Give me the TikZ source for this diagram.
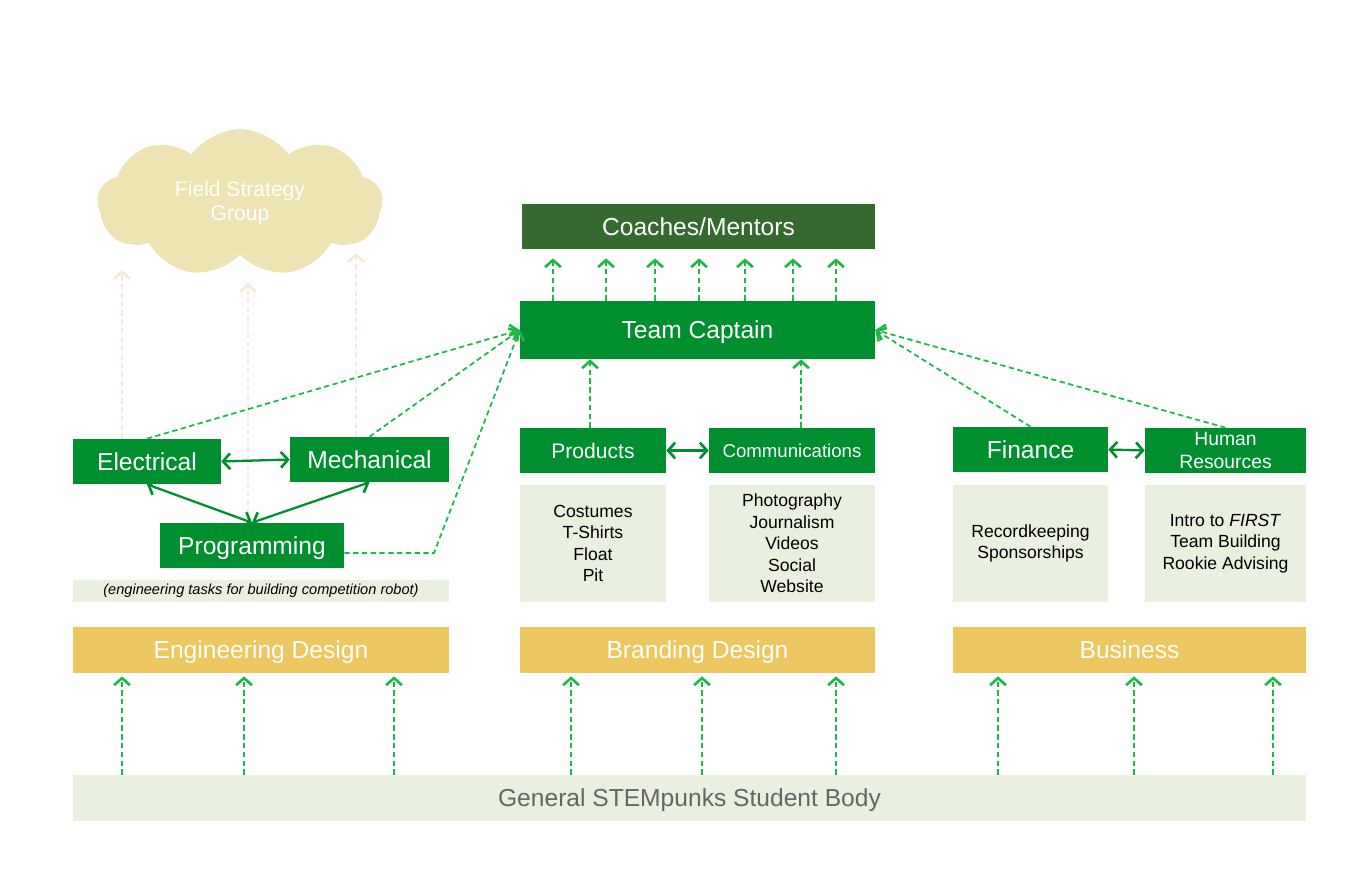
\documentclass[tikz,border=0pt]{standalone}
\usepackage{fontspec}
\setmainfont{Liberation Sans}
\usetikzlibrary{arrows.meta}
\usetikzlibrary{shapes.symbols}
\definecolor{boxgreen}{RGB}{0,143,46}
\definecolor{darkgreen}{RGB}{53,106,46}
\definecolor{dashgreen}{RGB}{30,184,70}
\definecolor{listfill}{RGB}{234,240,224}
\definecolor{gold}{RGB}{237,199,96}
\definecolor{cloudfill}{RGB}{238,227,178}
\definecolor{faint}{RGB}{247,234,218}
\definecolor{bodytext}{RGB}{102,102,102}

\begin{document}
\begin{tikzpicture}[x=0.02cm,y=-0.02cm,>={Straight Barb[length=4pt,width=9pt,line width=1.5pt]},
    green node/.style={rectangle,fill=boxgreen,text=white,inner sep=0pt,minimum height=0.9cm,
      text height=10pt,text depth=0pt,font=\fontsize{14}{16}\selectfont},
    list node/.style={rectangle,fill=listfill,inner sep=0pt,minimum height=2.34cm,align=center,font=\fontsize{10}{12.2}\selectfont},
    area node/.style={rectangle,fill=gold,text=white,inner sep=0pt,minimum height=0.92cm,
      text height=10pt,text depth=0pt,font=\fontsize{14}{16}\selectfont},
    dash link/.style={->,dash pattern=on 3pt off 2pt,line width=1pt,draw=dashgreen},
    faint link/.style={->,dash pattern=on 3pt off 2pt,line width=1pt,draw=faint},
    both link/.style={<->,line width=1.3pt,draw=boxgreen}]
  \useasboundingbox (0,0) rectangle (1371,869);

  % field strategy
  \node[cloud,cloud puffs=9,cloud puff arc=110,aspect=2.3,fill=cloudfill,inner sep=0pt,
        minimum width=5.7cm,minimum height=2.95cm,text=white,align=center,
        font=\fontsize{12}{14}\selectfont] (fsg) at (240,203) {Field Strategy\\Group};
  \coordinate (fs1) at (122,270);
  \coordinate (fs2) at (248,283);
  \coordinate (fs3) at (356,253);

  % top
  \node[rectangle,fill=darkgreen,text=white,inner sep=0pt,minimum width=7.06cm,minimum height=0.9cm,
        text height=10pt,text depth=0pt,font=\fontsize{14}{16}\selectfont] (cm) at (698.5,226.5) {Coaches/Mentors};
  \node[green node,minimum width=7.1cm,minimum height=1.16cm] (tc) at (697.5,330) {Team Captain};

  % engineering
  \node[green node,minimum width=2.96cm] (elec) at (147,461.5) {Electrical};
  \node[green node,minimum width=3.18cm] (mech) at (369.5,459.5) {Mechanical};
  \node[green node,minimum width=3.68cm] (prog) at (252,545.5) {Programming};
  \node[rectangle,fill=listfill,inner sep=0pt,minimum width=7.52cm,minimum height=0.44cm,
        font=\fontsize{8.3}{10}\selectfont\itshape] (note) at (261,591) {(engineering tasks for building competition robot)};
  \coordinate (bend) at (434,553);

  % branding
  \node[green node,minimum width=2.92cm,text height=8.6pt,font=\fontsize{12}{14}\selectfont] (prod) at (593,450.5) {Products};
  \node[green node,minimum width=3.32cm,text height=7.6pt,font=\fontsize{10.6}{12}\selectfont] (comm) at (792,450.5) {Communications};
  \node[list node,minimum width=2.92cm] (prodlist) at (593,543.5) {Costumes\\T-Shirts\\Float\\Pit};
  \node[list node,minimum width=3.32cm] (commlist) at (792,543.5) {Photography\\Journalism\\Videos\\Social\\Website};

  % business
  \node[green node,minimum width=3.1cm] (fin) at (1030.5,449.5) {Finance};
  \node[green node,minimum width=3.22cm,align=center,text height=,text depth=,
        font=\fontsize{11}{13}\selectfont] (hr) at (1225.5,450.5) {Human\\Resources};
  \node[list node,minimum width=3.1cm] (finlist) at (1030.5,543.5) {Recordkeeping\\Sponsorships};
  \node[list node,minimum width=3.22cm] (hrlist) at (1225.5,543.5) {Intro to \textit{FIRST}\\Team Building\\Rookie Advising};

  % areas
  \node[area node,minimum width=7.52cm] (eng) at (261,650) {Engineering Design};
  \node[area node,minimum width=7.1cm] (brand) at (697.5,650) {Branding Design};
  \node[area node,minimum width=7.06cm] (bus) at (1129.5,650) {Business};
  \node[rectangle,fill=listfill,inner sep=0pt,minimum width=24.66cm,minimum height=0.92cm,text=bodytext,
        text height=10pt,text depth=0pt,font=\fontsize{14}{16}\selectfont] (body) at (689.5,798) {General STEMpunks Student Body};

  % faint arrows to the cloud
  \path (elec.north -| fs1) edge[faint link] (fs1);
  \path (prog.north -| fs2) edge[faint link] (fs2);
  \path (mech.north -| fs3) edge[faint link] (fs3);

  % captain to coaches
  \path (tc.north -| 553,0) edge[dash link,shorten >=0.18cm] (cm.south -| 553,0);
  \path (tc.north -| 606,0) edge[dash link,shorten >=0.18cm] (cm.south -| 606,0);
  \path (tc.north -| 655,0) edge[dash link,shorten >=0.18cm] (cm.south -| 655,0);
  \path (tc.north -| 699,0) edge[dash link,shorten >=0.18cm] (cm.south -| 699,0);
  \path (tc.north -| 745,0) edge[dash link,shorten >=0.18cm] (cm.south -| 745,0);
  \path (tc.north -| 793,0) edge[dash link,shorten >=0.18cm] (cm.south -| 793,0);
  \path (tc.north -| 836,0) edge[dash link,shorten >=0.18cm] (cm.south -| 836,0);

  % teams to captain
  \path (elec.north) edge[dash link] (tc.west);
  \path (mech.north) edge[dash link] (tc.west);
  \draw[dash link] (prog.east |- bend) -- (bend) -- (tc.west);
  \path (prod.north -| 590,0) edge[dash link] (tc.south -| 590,0);
  \path (comm.north -| 801,0) edge[dash link] (tc.south -| 801,0);
  \path (fin.north) edge[dash link] (tc.east);
  \path (hr.north) edge[dash link] (tc.east);

  % within groups
  \path (elec.east) edge[both link] (mech.west);
  \path (elec.south) edge[both link] (prog.north);
  \path (mech.south) edge[both link] (prog.north);
  \path (prod.east) edge[both link] (comm.west);
  \path (fin.east) edge[both link] (hr.west);

  % student body to areas
  \path (body.north -| 122,0) edge[dash link,shorten >=0.06cm] (eng.south -| 122,0);
  \path (body.north -| 244,0) edge[dash link,shorten >=0.06cm] (eng.south -| 244,0);
  \path (body.north -| 394,0) edge[dash link,shorten >=0.06cm] (eng.south -| 394,0);
  \path (body.north -| 571,0) edge[dash link,shorten >=0.06cm] (brand.south -| 571,0);
  \path (body.north -| 702,0) edge[dash link,shorten >=0.06cm] (brand.south -| 702,0);
  \path (body.north -| 836,0) edge[dash link,shorten >=0.06cm] (brand.south -| 836,0);
  \path (body.north -| 998,0) edge[dash link,shorten >=0.06cm] (bus.south -| 998,0);
  \path (body.north -| 1134,0) edge[dash link,shorten >=0.06cm] (bus.south -| 1134,0);
  \path (body.north -| 1273,0) edge[dash link,shorten >=0.06cm] (bus.south -| 1273,0);
\end{tikzpicture}
\end{document}
